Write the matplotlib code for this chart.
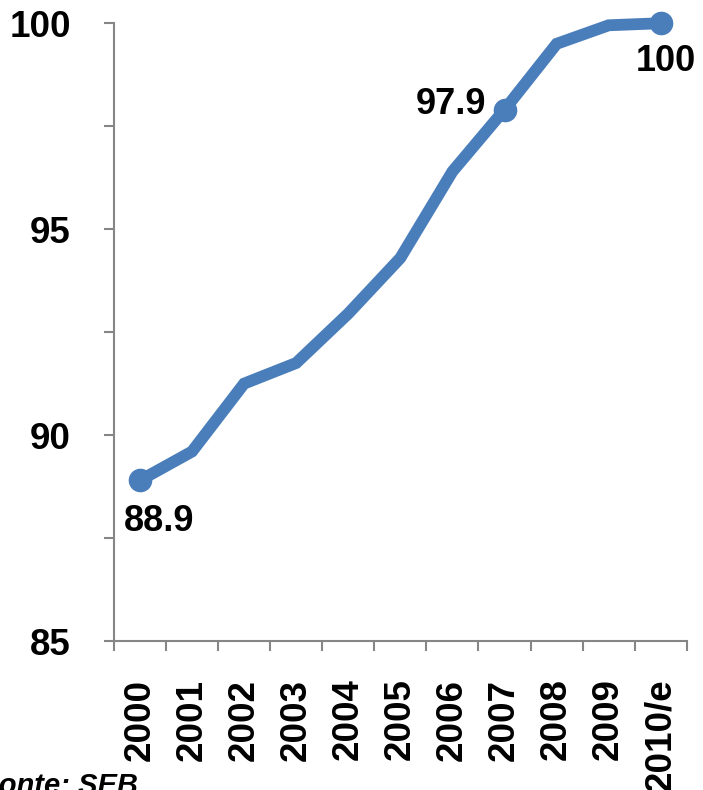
import matplotlib.pyplot as plt
from matplotlib.ticker import FixedLocator

plt.rcParams['font.family'] = ['Liberation Sans', 'DejaVu Sans']
plt.rcParams['font.weight'] = 'bold'

years = ['2000', '2001', '2002', '2003', '2004', '2005', '2006', '2007', '2008', '2009', '2010/e']
values = [88.9, 89.6, 91.25, 91.75, 92.95, 94.3, 96.4, 97.9, 99.5, 99.95, 100.0]
labelled = [0, 7, 10]

blue = '#4a7ebb'
grey = '#868686'

fig = plt.figure(figsize=(7.03, 7.9), dpi=100)
ax = fig.add_axes([0.162, 0.1886, 0.815, 0.782])

x = list(range(len(years)))
ax.plot(x, values, color=blue, lw=8.5, solid_joinstyle='miter', solid_capstyle='butt',
        marker='o', markersize=16, markevery=labelled, clip_on=False, zorder=3)

ax.annotate('88.9', xy=(0, values[0]), xytext=(14, -17), textcoords='offset points',
            ha='center', va='top', fontsize=26, fontweight='bold')
ax.annotate('97.9', xy=(7, values[7]), xytext=(-13, 4), textcoords='offset points',
            ha='right', va='center', fontsize=26, fontweight='bold')
ax.annotate('100', xy=(10, values[10]), xytext=(4, -15), textcoords='offset points',
            ha='center', va='top', fontsize=26, fontweight='bold')

ax.set_xlim(-0.5, 10.5)
ax.set_ylim(85, 100)

ax.set_yticks([85, 90, 95, 100])
ax.set_yticklabels(['85', '90', '95', '100'], fontsize=26.5, fontweight='bold')
ax.yaxis.set_minor_locator(FixedLocator([87.5, 92.5, 97.5]))
ax.tick_params(axis='y', which='both', direction='out', length=7, width=1.5, color=grey, pad=24)

ax.set_xticks(x)
ax.set_xticklabels(years, rotation=90, fontsize=26.5, fontweight='bold')
ax.xaxis.set_minor_locator(FixedLocator([i - 0.5 for i in range(len(years) + 1)]))
ax.tick_params(axis='x', which='major', length=0, pad=27)
ax.tick_params(axis='x', which='minor', direction='out', length=7, width=1.5, color=grey)

for side in ['top', 'right']:
    ax.spines[side].set_visible(False)
for side in ['left', 'bottom']:
    ax.spines[side].set_color(grey)
    ax.spines[side].set_linewidth(1.5)

# source note, cut at the bottom-left edge as in the original slide
fig.text(-0.027, -0.005, 'Fonte: SEB', fontsize=21, fontweight='bold', style='italic')

fig.savefig('out.png', dpi=100)
